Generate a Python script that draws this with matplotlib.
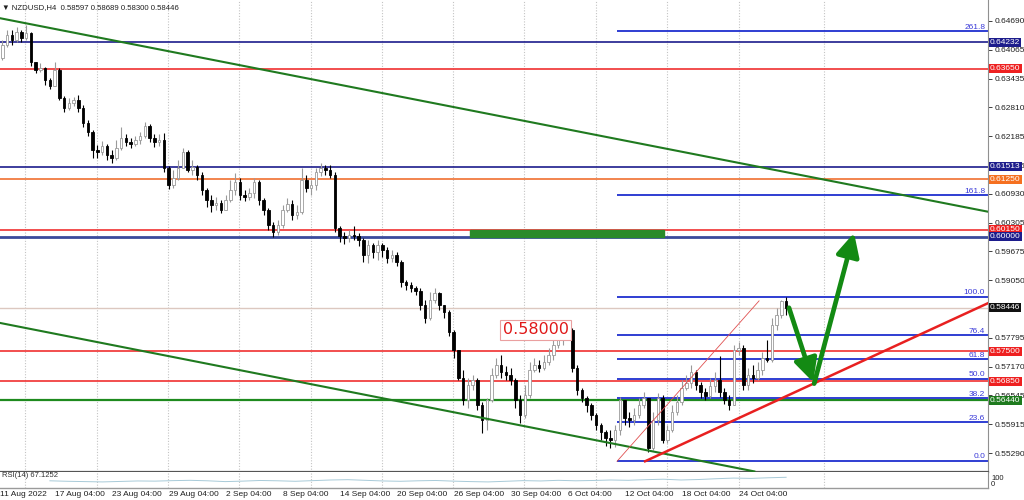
import matplotlib
matplotlib.use("Agg")
import matplotlib.pyplot as plt
import matplotlib.transforms as mtransforms
from matplotlib.patches import Rectangle
import numpy as np

plt.rcParams['font.family'] = ['Liberation Sans', 'DejaVu Sans']

# ---------------- data ----------------
symbol_title = "\u25bc NZDUSD,H4  0.58597 0.58689 0.58300 0.58446"
first_open = 0.6388
closes = [0.6417, 0.6439, 0.6428, 0.6445, 0.6432, 0.6443, 0.6380, 0.6362, 0.6367, 0.6341,
          0.6328, 0.6362, 0.6302, 0.6280, 0.6291, 0.6297, 0.6280, 0.6247, 0.6228, 0.6188,
          0.6184, 0.6197, 0.6177, 0.6171, 0.6193, 0.6214, 0.6206, 0.6201, 0.6210, 0.6219,
          0.6241, 0.6214, 0.6206, 0.6210, 0.6149, 0.6112, 0.6127, 0.6149, 0.6184, 0.6145,
          0.6151, 0.6134, 0.6101, 0.6080, 0.6069, 0.6073, 0.6058, 0.6080, 0.6101, 0.6119,
          0.6090, 0.6086, 0.6095, 0.6119, 0.6080, 0.6058, 0.6025, 0.6010, 0.6025, 0.6058,
          0.6071, 0.6047, 0.6053, 0.6123, 0.6106, 0.6112, 0.6140, 0.6149, 0.6145, 0.6134,
          0.6019, 0.6001, 0.5997, 0.6003, 0.6001, 0.5993, 0.5960, 0.5982, 0.5966, 0.5982,
          0.5971, 0.5953, 0.5960, 0.5945, 0.5901, 0.5895, 0.5888, 0.5882, 0.5851, 0.5823,
          0.5862, 0.5877, 0.5851, 0.5836, 0.5792, 0.5753, 0.5692, 0.5644, 0.5677, 0.5688,
          0.5633, 0.5601, 0.5644, 0.5699, 0.5720, 0.5705, 0.5699, 0.5688, 0.5644, 0.5612,
          0.5655, 0.5710, 0.5720, 0.5714, 0.5727, 0.5742, 0.5764, 0.5775, 0.5786, 0.5797,
          0.5714, 0.5666, 0.5649, 0.5633, 0.5612, 0.5590, 0.5575, 0.5562, 0.5557, 0.5579,
          0.5644, 0.5605, 0.5601, 0.5612, 0.5633, 0.5649, 0.5540, 0.5601, 0.5649, 0.5557,
          0.5579, 0.5618, 0.5640, 0.5670, 0.5681, 0.5705, 0.5677, 0.5662, 0.5653, 0.5675,
          0.5688, 0.5662, 0.5644, 0.5633, 0.5753, 0.5757, 0.5677, 0.5699, 0.5692, 0.5710,
          0.5736, 0.5731, 0.5808, 0.5829, 0.5860, 0.58446]
highs = [0.6428, 0.6449, 0.6449, 0.6456, 0.6449, 0.6460, 0.6445, 0.6378, 0.6378, 0.6369,
         0.6345, 0.6380, 0.6367, 0.6306, 0.6302, 0.6304, 0.6308, 0.6286, 0.6254, 0.6232,
         0.6199, 0.6208, 0.6201, 0.6188, 0.6210, 0.6238, 0.6223, 0.6214, 0.6219, 0.6227,
         0.6249, 0.6245, 0.6223, 0.6223, 0.6225, 0.6153, 0.6145, 0.6167, 0.6193, 0.6188,
         0.6167, 0.6156, 0.6140, 0.6106, 0.6090, 0.6086, 0.6080, 0.6090, 0.6123, 0.6138,
         0.6127, 0.6101, 0.6106, 0.6127, 0.6123, 0.6084, 0.6062, 0.6032, 0.6036, 0.6069,
         0.6084, 0.6080, 0.6069, 0.6149, 0.6134, 0.6123, 0.6149, 0.6160, 0.6156, 0.6156,
         0.6140, 0.6023, 0.6010, 0.6014, 0.6023, 0.6008, 0.5997, 0.5993, 0.5986, 0.5993,
         0.5986, 0.5977, 0.5971, 0.5966, 0.5949, 0.5905, 0.5901, 0.5892, 0.5888, 0.5862,
         0.5879, 0.5888, 0.5879, 0.5851, 0.5840, 0.5797, 0.5753, 0.5710, 0.5692, 0.5699,
         0.5692, 0.5640, 0.5649, 0.5714, 0.5736, 0.5742, 0.5718, 0.5714, 0.5692, 0.5655,
         0.5677, 0.5727, 0.5736, 0.5731, 0.5742, 0.5757, 0.5775, 0.5790, 0.5801, 0.5812,
         0.5801, 0.5720, 0.5670, 0.5653, 0.5638, 0.5616, 0.5594, 0.5579, 0.5579, 0.5590,
         0.5651, 0.5633, 0.5618, 0.5627, 0.5649, 0.5662, 0.5649, 0.5618, 0.5660, 0.5655,
         0.5590, 0.5633, 0.5655, 0.5688, 0.5699, 0.5720, 0.5710, 0.5684, 0.5670, 0.5692,
         0.5705, 0.5740, 0.5670, 0.5655, 0.5764, 0.5771, 0.5764, 0.5714, 0.5720, 0.5727,
         0.5749, 0.5775, 0.5823, 0.5845, 0.5862, 0.58689]
lows = [0.6384, 0.6412, 0.6417, 0.6423, 0.6423, 0.6428, 0.6371, 0.6356, 0.6358, 0.6330,
        0.6321, 0.6341, 0.6297, 0.6271, 0.6275, 0.6284, 0.6271, 0.6238, 0.6219, 0.6171,
        0.6171, 0.6177, 0.6167, 0.6160, 0.6167, 0.6188, 0.6197, 0.6193, 0.6197, 0.6201,
        0.6214, 0.6206, 0.6195, 0.6197, 0.6140, 0.6103, 0.6106, 0.6123, 0.6156, 0.6140,
        0.6134, 0.6123, 0.6090, 0.6064, 0.6053, 0.6058, 0.6051, 0.6058, 0.6075, 0.6090,
        0.6080, 0.6077, 0.6080, 0.6084, 0.6069, 0.6047, 0.6014, 0.5999, 0.6003, 0.6019,
        0.6053, 0.6036, 0.6038, 0.6049, 0.6097, 0.6090, 0.6101, 0.6132, 0.6134, 0.6127,
        0.6010, 0.5988, 0.5984, 0.5988, 0.5993, 0.5979, 0.5945, 0.5942, 0.5953, 0.5949,
        0.5955, 0.5942, 0.5945, 0.5936, 0.5890, 0.5884, 0.5879, 0.5873, 0.5840, 0.5812,
        0.5818, 0.5855, 0.5840, 0.5823, 0.5784, 0.5736, 0.5688, 0.5633, 0.5627, 0.5666,
        0.5623, 0.5573, 0.5579, 0.5640, 0.5692, 0.5692, 0.5688, 0.5677, 0.5627, 0.5594,
        0.5605, 0.5649, 0.5705, 0.5705, 0.5710, 0.5720, 0.5731, 0.5757, 0.5764, 0.5775,
        0.5705, 0.5655, 0.5640, 0.5618, 0.5601, 0.5579, 0.5557, 0.5544, 0.5540, 0.5542,
        0.5568, 0.5590, 0.5586, 0.5590, 0.5605, 0.5627, 0.5531, 0.5536, 0.5590, 0.5551,
        0.5551, 0.5575, 0.5612, 0.5633, 0.5666, 0.5670, 0.5666, 0.5649, 0.5644, 0.5649,
        0.5662, 0.5651, 0.5636, 0.5623, 0.5634, 0.5742, 0.5666, 0.5666, 0.5681, 0.5688,
        0.5699, 0.5727, 0.5727, 0.5797, 0.5823, 0.58300]

rsi_label = "RSI(14) 67.1252"
rsi_values = [45, 42, 40, 38, 41, 44, 43, 46, 48, 45, 40, 43, 47, 45, 42, 46, 50, 52,
              48, 44, 42, 45, 47, 43, 40, 38, 42, 46, 44, 48, 45, 47, 50, 48, 52, 55,
              50, 53, 58, 62, 60, 64, 67]

date_labels = ["11 Aug 2022", "17 Aug 04:00", "23 Aug 04:00", "29 Aug 04:00", "2 Sep 04:00",
               "8 Sep 04:00", "14 Sep 04:00", "20 Sep 04:00", "26 Sep 04:00", "30 Sep 04:00",
               "6 Oct 04:00", "12 Oct 04:00", "18 Oct 04:00", "24 Oct 04:00"]
date_label_bars = [-0.5, 11, 23, 35, 47, 59, 71, 83, 95, 107, 119, 131, 143, 155]
week_sep_bars = [4.8, 19.9, 34.9, 49.8, 65, 79.9, 94.9, 109.8, 125, 139.9, 155.1, 173]

price_ticks = [0.64690, 0.64065, 0.63435, 0.62810, 0.62185, 0.61555, 0.60930, 0.60305,
               0.59675, 0.59050, 0.57795, 0.57170, 0.56545, 0.55915, 0.55290]

# horizontal levels: (price, line colour, label colour, width)
hlevels = [(0.64232, "#1c1c8c", "#1c1c8c", 1.2),
           (0.63650, "#f03030", "#ee2020", 1.2),
           (0.61513, "#1c1c8c", "#1c1c8c", 1.2),
           (0.61250, "#f07030", "#f57020", 1.2),
           (0.60150, "#f03030", "#ee2020", 1.2),
           (0.60000, "#3a4a9c", "#1c1c8c", 2.0),
           (0.57500, "#f03030", "#ee2020", 1.2),
           (0.56850, "#f03030", "#ee2020", 1.2),
           (0.56440, "#1e8a1e", "#1e7a1e", 1.6)]
current_price = 0.58446

fib_low, fib_high = 0.5512, 0.5869
fib_levels = [0.0, 23.6, 38.2, 50.0, 61.8, 76.4, 100.0, 161.8, 261.8]
fib_start_bar = 129.4

upper_channel = ([-0.5, 207.5], [0.6475, 0.6054])
lower_channel = ([-0.5, 158.3], [0.5812, 0.5489])
red_trend = ([135.3, 207.5], [0.5511, 0.5855])
thin_red = ([129.4, 159.3], [0.5511, 0.5860])
zone_bars = (98.4, 139.3)
zone_prices = (0.60000, 0.60142)
arrow_down = ((165.6, 0.5845), (170.7, 0.5683))
arrow_up = ((170.9, 0.5680), (179.3, 0.6008))
note_text = "0.58000"
note_pos = (112.3, 0.5797)

# ---------------- figure ----------------
W, H = 1024, 500
fig = plt.figure(figsize=(W / 100, H / 100), dpi=100)
fig.patch.set_facecolor("white")
axw = 988 / W
ax = fig.add_axes([0, (H - 472) / H, axw, 472 / H])
rax = fig.add_axes([0, (H - 488) / H, axw, 16 / H])

XMIN, XMAX = -0.5, 207.5
YMIN, YMAX = 0.54877, 0.65146
ax.set_xlim(XMIN, XMAX)
ax.set_ylim(YMIN, YMAX)

for s in ["top", "left"]:
    ax.spines[s].set_visible(False)
ax.spines["right"].set_color("#909090")
ax.spines["right"].set_linewidth(0.8)
ax.spines["bottom"].set_color("#555555")
ax.spines["bottom"].set_linewidth(1.6)
ax.set_xticks([])
ax.yaxis.tick_right()
ax.set_yticks(price_ticks)
ax.set_yticklabels([f"{t:.5f}" for t in price_ticks])
ax.tick_params(axis="y", labelsize=6, colors="#202020", length=3, width=0.6, pad=2)

for b in week_sep_bars:
    ax.axvline(b, color="#c4c4c4", ls=(0, (1, 1.5)), lw=0.8, zorder=0)
    rax.axvline(b, color="#c4c4c4", ls=(0, (1, 1.5)), lw=0.8, zorder=0)

# candles
opens = [first_open] + closes[:-1]
xs = np.arange(len(closes))
for i in xs:
    o, c = opens[i], closes[i]
    hi = max(highs[i], o, c)
    lo = min(lows[i], o, c)
    up = c >= o
    col = "#9a9a9a" if up else "#000000"
    ax.vlines(i, lo, hi, color=col, lw=0.8, zorder=3)
    body = abs(c - o)
    if body < 0.00008:
        body = 0.00008
    ax.bar(i, body, bottom=min(o, c), width=0.55,
           color="white" if up else "black", edgecolor=col, lw=0.6, zorder=4)

# horizontal lines
ax.axhline(current_price, color="#dcc8c0", lw=1.0, zorder=2)
for p, lc, _, lw in hlevels:
    ax.axhline(p, color=lc, lw=lw, zorder=2)

# fibonacci
fib_prices = [fib_low + (fib_high - fib_low) * lv / 100 for lv in fib_levels]
ax.hlines(fib_prices, fib_start_bar, XMAX, color="#1f2fcf", lw=1.3, zorder=2)
for lv, fp in zip(fib_levels, fib_prices):
    ax.text(XMAX - 0.6, fp + 0.0001, f"{lv:.1f}", color="#3a3ad8", fontsize=6,
            ha="right", va="bottom", zorder=6)

# trend lines
ax.plot(*upper_channel, color="#1f7a1f", lw=1.5, zorder=2)
ax.plot(*lower_channel, color="#1f7a1f", lw=1.5, zorder=5)
ax.plot(*red_trend, color="#e82020", lw=1.8, zorder=5)
ax.plot(*thin_red, color="#e05050", lw=0.6, zorder=5)

# zone rectangle
ax.add_patch(Rectangle((zone_bars[0], zone_prices[0]), zone_bars[1] - zone_bars[0],
                       zone_prices[1] - zone_prices[0], color="#2a8a2a", zorder=5))

# arrows
for (s, e) in (arrow_down, arrow_up):
    ax.annotate("", xy=e, xytext=s,
                arrowprops=dict(arrowstyle="-|>,head_width=0.5,head_length=1.0",
                                color="#138a13", lw=3.4, shrinkA=0, shrinkB=0,
                                mutation_scale=14), zorder=7)

# note
ax.text(*note_pos, note_text, color="#e01818", fontsize=11.5, ha="center", va="center",
        family="DejaVu Sans",
        bbox=dict(boxstyle="square,pad=0.15", fc="white", ec="#eaa0a0", lw=0.8), zorder=6)

# title
ax.text(0.002, 0.992, symbol_title, transform=ax.transAxes, fontsize=5.6, color="#202020",
        ha="left", va="top", zorder=8)

# price boxes on axis
btr = mtransforms.blended_transform_factory(fig.transFigure, ax.transData)
for p, _, bc, _ in hlevels:
    fig.text(990 / W, p, f"{p:.5f}", transform=btr, color="white", fontsize=6,
             ha="left", va="center", zorder=10,
             bbox=dict(boxstyle="square,pad=0.12", fc=bc, ec="none"))
fig.text(990 / W, current_price, f"{current_price:.5f}", transform=btr, color="white",
         fontsize=6, ha="left", va="center", zorder=10,
         bbox=dict(boxstyle="square,pad=0.12", fc="#111111", ec="none"))

# RSI panel
rax.set_xlim(XMIN, XMAX)
rax.set_ylim(0, 100)
rax.set_xticks([])
rax.set_yticks([])
rax.spines["top"].set_visible(False)
rax.spines["left"].set_visible(False)
rax.spines["right"].set_color("#909090")
rax.spines["right"].set_linewidth(0.8)
rax.spines["bottom"].set_color("#9a9a9a")
rax.spines["bottom"].set_linewidth(1.0)
rsi_x = np.linspace(10, len(closes) - 1, len(rsi_values))
rax.plot(rsi_x, rsi_values, color="#a8cad8", lw=0.7)
rax.text(0.002, 0.78, rsi_label, transform=rax.transAxes, fontsize=5.5, color="#303030",
         ha="left", va="center")
fig.text(991 / W, 1 - 479 / H, "100", fontsize=5.5, color="#202020", va="center")
fig.text(991 / W, 1 - 485 / H, "0", fontsize=5.5, color="#202020", va="center")

# date labels
dtr = mtransforms.blended_transform_factory(ax.transData, fig.transFigure)
for b, lab in zip(date_label_bars, date_labels):
    fig.text(b, 1 - 494 / H, lab, transform=dtr, fontsize=6, color="#202020",
             ha="left", va="center")

fig.savefig("out.png", dpi=100, facecolor="white")
